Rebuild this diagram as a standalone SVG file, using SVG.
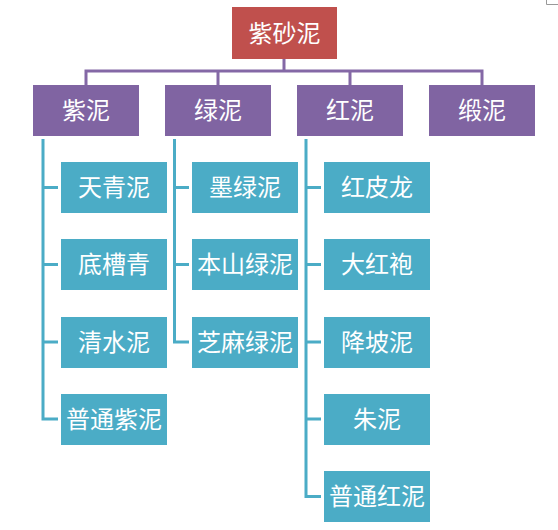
<svg xmlns="http://www.w3.org/2000/svg" width="558" height="530" viewBox="0 0 558 530">
<style>
.t{font-family:"Noto Sans CJK SC","Noto Sans CJK TC",sans-serif;font-size:24px;fill:#fff;text-anchor:middle;dominant-baseline:central}
.root{fill:#C0504D}
.l1{fill:#8064A2}
.l2{fill:#4BACC6}
.cp{fill:none;stroke:#8468A6;stroke-width:3}
.cc{fill:none;stroke:#4BACC6;stroke-width:3}
</style>
<rect width="558" height="530" fill="#fff"/>
<path d="M546.5,0V4.5H558" fill="none" stroke="#999" stroke-width="1"/>
<g id="connectors">
<path class="cp" d="M284,59V71M86,85V71H482V85M218,71V85M350,71V85"/>
<path class="cc" d="M43,139V419H58M43,187.5H58M43,264.5H58M43,342H58"/>
<path class="cc" d="M174.5,139V342H189M174.5,187.5H189M174.5,264.5H189"/>
<path class="cc" d="M306,139V496.5H321M306,187.5H321M306,264.5H321M306,342H321M306,419H321"/>
</g>
<g id="n-root"><rect class="root" x="232" y="7" width="105" height="52"/><text class="t" x="284.5" y="31">紫砂泥</text></g>
<g id="n-zini"><rect class="l1" x="33" y="85" width="106" height="51"/><text class="t" x="86" y="108.5">紫泥</text></g>
<g id="n-lvni"><rect class="l1" x="165" y="85" width="106" height="51"/><text class="t" x="218" y="108.5">绿泥</text></g>
<g id="n-hongni"><rect class="l1" x="297" y="85" width="106" height="51"/><text class="t" x="350" y="108.5">红泥</text></g>
<g id="n-duanni"><rect class="l1" x="429" y="85" width="106" height="51"/><text class="t" x="482" y="108.5">缎泥</text></g>
<g id="n-tianqingni"><rect class="l2" x="61" y="162" width="106" height="51"/><text class="t" x="114" y="185.5">天青泥</text></g>
<g id="n-dicaoqing"><rect class="l2" x="61" y="239" width="106" height="51"/><text class="t" x="114" y="262.5">底槽青</text></g>
<g id="n-qingshuini"><rect class="l2" x="61" y="317" width="106" height="51"/><text class="t" x="114" y="340">清水泥</text></g>
<g id="n-putongzini"><rect class="l2" x="61" y="394" width="106" height="51"/><text class="t" x="114" y="417">普通紫泥</text></g>
<g id="n-molvni"><rect class="l2" x="192" y="162" width="106" height="51"/><text class="t" x="245" y="185.5">墨绿泥</text></g>
<g id="n-benshanlvni"><rect class="l2" x="192" y="239" width="106" height="51"/><text class="t" x="245" y="262.5">本山绿泥</text></g>
<g id="n-zhimalvni"><rect class="l2" x="192" y="317" width="106" height="51"/><text class="t" x="245" y="340">芝麻绿泥</text></g>
<g id="n-hongpilong"><rect class="l2" x="324" y="162" width="106" height="51"/><text class="t" x="377" y="185.5">红皮龙</text></g>
<g id="n-dahongpao"><rect class="l2" x="324" y="239" width="106" height="51"/><text class="t" x="377" y="262.5">大红袍</text></g>
<g id="n-jiangpoini"><rect class="l2" x="324" y="317" width="106" height="51"/><text class="t" x="377" y="340">降坡泥</text></g>
<g id="n-zhuni"><rect class="l2" x="324" y="394" width="106" height="51"/><text class="t" x="377" y="417">朱泥</text></g>
<g id="n-putonghongni"><rect class="l2" x="324" y="471" width="106" height="51"/><text class="t" x="377" y="494.5">普通红泥</text></g>
</svg>
